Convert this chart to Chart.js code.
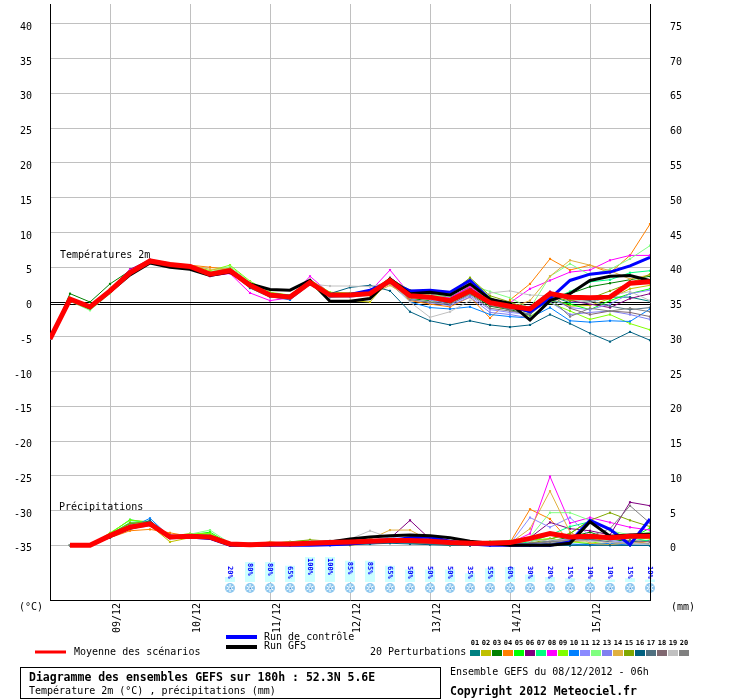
<!DOCTYPE html>
<html>
<head>
<meta charset="utf-8">
<script src="https://cdn.jsdelivr.net/npm/chart.js@4.4.1/dist/chart.umd.min.js"></script>
<style>
  html, body { margin: 0; padding: 0; background: #fff; }
</style>
</head>
<body>
<canvas id="myChart" width="740" height="700"></canvas>
<script>
// hours since 08/12/2012 06h
const HOURS = [0,6,12,18,24,30,36,42,48,54,60,66,72,78,84,90,96,102,108,114,120,126,132,138,144,150,156,162,168,174,180];
const DAY_TICKS = [18,42,66,90,114,138,162];
const DAY_LABELS = ['09/12','10/12','11/12','12/12','13/12','14/12','15/12'];
const TEMP_TICKS = [-35,-30,-25,-20,-15,-10,-5,0,5,10,15,20,25,30,35,40];
const MM_TICKS = [0,5,10,15,20,25,30,35,40,45,50,55,60,65,70,75];

// snow probability
const SNOW_HOURS = [54,60,66,72,78,84,90,96,102,108,114,120,126,132,138,144,150,156,162,168,174,180];
const SNOW_PCT = [20,80,80,65,100,100,85,85,65,50,50,50,35,55,60,30,20,15,10,10,15,10];

const PERT_COLORS = ['#008080','#c0c000','#008000','#ff8000','#00ff00','#800080','#00ff80','#ff00ff','#80ff00','#0080ff',
                     '#8a8aff','#80ff80','#8080f0','#e0b040','#80a800','#006080','#507080','#806870','#c0c0c0','#808080'];

// temperature 2m (°C)
const T_MEAN = [-5.3,0.4,-0.7,1.6,4.2,5.9,5.4,5.1,4.0,4.5,2.4,1.0,0.7,2.8,1.0,1.0,1.2,3.1,0.9,0.7,0.2,1.6,-0.1,-0.6,-1.0,1.2,0.7,0.6,0.7,2.7,2.9];
const T_CTRL = [-5.3,0.4,-0.7,1.6,4.2,5.8,5.3,5.0,3.9,4.4,2.3,1.1,0.8,2.7,1.0,1.1,1.7,2.9,1.6,1.7,1.4,3.1,0.4,-0.5,-1.4,0.5,3.1,4.0,4.3,5.2,6.4];
const T_GFS  = [-5.3,0.4,-0.8,1.5,3.9,5.6,5.0,4.7,3.8,4.3,2.6,1.8,1.7,3.1,0.1,0.1,0.5,3.3,1.2,1.4,1.0,2.6,0.4,-0.2,-2.6,0.2,1.2,3.1,3.7,3.8,3.1];
const T_P01 = [-5.3,0.3,-0.8,1.5,4.0,5.7,5.5,5.0,3.8,4.3,2.0,0.7,0.5,2.9,0.9,1.1,1.2,2.9,1.2,0.5,0.0,1.5,-0.3,-0.8,-1.3,0.9,-0.1,0.0,0.7,0.7,0.1];
const T_P02 = [-5.3,0.5,-0.6,1.7,4.3,6.0,5.5,5.2,4.3,4.9,2.7,1.2,0.6,2.7,0.1,0.2,0.0,3.3,0.7,0.9,0.5,2.3,0.1,-0.5,-0.9,0.5,-0.6,-0.5,0.5,1.9,2.4];
const T_P03 = [-5.3,1.2,0.0,2.6,4.5,5.7,5.2,4.9,3.9,4.2,2.2,1.1,0.9,3.0,1.2,0.9,1.1,2.9,0.5,0.2,-0.1,1.2,-0.6,-1.1,-1.8,0.7,1.2,2.2,2.7,3.2,3.7];
const T_P04 = [-5.3,0.4,-0.7,1.6,4.1,5.9,5.6,5.3,5.0,4.7,2.7,1.3,0.8,2.6,0.7,0.8,1.0,2.6,0.2,-0.3,-0.7,0.7,-2.3,0.3,2.6,6.2,4.6,5.3,4.2,6.7,11.2];
const T_P05 = [-5.3,0.2,-1.1,1.3,4.1,6.0,5.3,5.0,4.1,4.7,2.5,1.2,1.0,3.0,1.3,1.2,1.4,3.2,1.0,0.7,0.5,1.9,0.2,-0.8,-1.5,0.2,-0.3,-1.1,0.2,1.2,1.9];
const T_P06 = [-5.3,0.5,-0.7,1.8,4.7,6.1,5.6,5.1,3.9,4.4,2.3,0.9,0.7,3.1,1.1,1.0,1.3,3.5,1.5,1.1,0.7,2.1,0.0,-0.4,-0.7,1.5,0.2,-0.3,-0.8,0.5,1.2];
const T_P07 = [-5.3,0.3,-0.9,1.4,4.0,5.8,5.4,5.2,4.2,4.6,2.6,1.1,0.7,2.7,1.0,0.9,1.2,3.0,1.3,0.8,0.4,1.7,0.5,-0.3,-1.6,0.3,1.5,2.9,3.2,4.2,4.5];
const T_P08 = [-5.3,0.4,-0.6,1.7,4.6,6.0,5.5,5.1,3.7,4.1,1.3,0.2,0.6,3.7,1.2,1.1,1.5,4.6,1.1,0.7,0.6,2.2,0.1,-0.1,1.9,3.1,4.3,4.6,6.0,6.7,6.7];
const T_P09 = [-5.3,0.6,-0.5,1.9,4.4,5.8,5.5,5.3,4.5,5.3,3.0,1.4,1.0,3.2,1.4,1.3,1.5,3.4,1.6,1.3,0.9,3.3,0.7,-0.7,-2.1,-0.1,-1.3,-2.5,-1.8,-3.1,-4.0];
const T_P10 = [-5.3,0.3,-0.8,1.5,4.1,5.8,5.3,4.9,3.8,4.3,2.2,0.8,0.3,2.5,0.7,0.8,1.1,2.8,0.0,-0.8,-1.0,-0.7,-1.8,-2.1,-2.3,-0.8,-2.7,-2.9,-2.7,-2.8,-1.0];
const T_P11 = [-5.3,0.4,-0.8,1.6,4.2,5.9,5.4,5.1,4.0,4.5,2.3,0.9,0.7,2.8,0.9,0.9,1.3,2.9,0.7,0.3,-0.3,0.9,-1.1,-1.5,-1.8,0.5,-0.8,-1.1,-0.3,1.2,1.7];
const T_P12 = [-5.3,0.1,-1.2,1.2,3.9,5.7,5.4,5.2,4.3,5.1,2.9,1.3,0.8,2.9,1.3,1.2,1.2,3.2,1.4,1.0,0.8,2.5,1.5,0.6,-0.9,3.7,5.5,3.9,4.7,6.2,8.1];
const T_P13 = [-5.3,0.5,-0.6,1.7,4.3,5.9,5.4,5.0,3.9,4.4,2.2,0.7,0.6,2.7,0.8,0.7,1.0,2.7,0.4,-0.1,-0.5,0.7,-1.5,-1.8,-2.3,0.0,-1.8,-1.5,-1.3,-1.8,-2.5];
const T_P14 = [-5.3,0.4,-0.7,1.6,4.2,5.9,5.5,5.3,4.7,4.8,2.8,1.2,0.9,3.0,1.1,1.0,0.9,2.4,0.6,0.4,0.1,1.3,-0.2,-0.9,0.2,3.7,6.0,5.3,4.5,3.3,3.9];
const T_P15 = [-5.3,0.5,-0.5,1.8,4.4,6.0,5.5,5.2,4.2,4.8,2.6,1.2,1.0,3.0,1.2,1.1,1.3,3.3,1.7,1.5,1.2,3.5,0.9,0.0,-1.1,0.7,0.2,0.5,1.6,2.7,4.0];
const T_P16 = [-5.3,0.3,-0.9,1.5,4.1,5.8,5.3,5.0,3.9,4.3,2.1,0.8,0.7,2.8,1.2,2.1,2.4,1.6,-1.4,-2.7,-3.3,-2.7,-3.3,-3.6,-3.3,-1.8,-3.1,-4.5,-5.7,-4.3,-5.5];
const T_P17 = [-5.3,0.4,-0.7,1.6,4.2,5.9,5.4,5.1,4.0,4.5,2.5,1.1,0.8,2.8,1.1,1.0,1.2,3.0,0.8,0.6,0.2,1.8,-0.1,-1.2,-1.9,1.3,0.5,0.2,-0.6,-1.1,-0.8];
const T_P18 = [-5.3,0.4,-0.8,1.5,4.2,5.8,5.4,5.1,4.1,4.6,2.4,1.0,0.7,2.7,0.9,0.9,1.1,3.0,1.0,0.6,0.3,1.6,-0.5,-1.0,-1.4,1.1,-0.9,-1.8,-1.3,-1.5,-2.1];
const T_P19 = [-5.3,0.4,-0.6,1.7,4.2,5.9,5.5,5.2,4.1,4.7,2.5,1.2,0.9,2.6,2.3,2.3,2.2,2.9,0.0,-2.2,-1.4,0.2,1.3,1.6,1.0,0.9,0.5,-0.1,0.9,1.5,0.2];
const T_P20 = [-5.3,0.3,-0.7,1.6,4.3,5.9,5.4,5.0,4.0,4.4,2.3,0.9,0.7,2.9,1.0,1.1,1.2,3.1,0.3,0.0,-0.3,1.1,-0.9,-1.3,-1.7,0.6,-2.1,-0.9,-1.3,-0.9,-1.4];
const TEMP_PERTS = [T_P01,T_P02,T_P03,T_P04,T_P05,T_P06,T_P07,T_P08,T_P09,T_P10,T_P11,T_P12,T_P13,T_P14,T_P15,T_P16,T_P17,T_P18,T_P19,T_P20];

// precipitation (mm / 6h)
const R_MEAN = [null,0.0,0.0,1.4,2.6,3.1,1.2,1.3,1.2,0.2,0.1,0.2,0.2,0.3,0.4,0.5,0.6,0.7,0.7,0.6,0.4,0.3,0.3,0.4,1.0,1.7,1.2,1.3,1.1,1.3,1.3];
const R_CTRL = [null,0.0,0.0,1.3,2.5,3.2,1.1,1.2,1.0,0.0,0.0,0.0,0.0,0.0,0.1,0.2,0.5,0.7,1.1,1.2,0.6,0.2,0.0,0.0,0.0,0.0,0.5,3.6,2.3,0.1,3.8];
const R_GFS  = [null,0.0,0.0,1.4,2.6,3.1,1.2,1.2,1.1,0.1,0.0,0.1,0.2,0.3,0.5,0.9,1.2,1.4,1.5,1.4,1.1,0.6,0.3,0.0,0.0,0.0,0.3,3.4,1.3,1.5,1.6];
const R_P01 = [null,0.0,0.0,1.2,2.3,3.0,1.1,1.2,1.0,0.1,0.0,0.1,0.1,0.2,0.3,0.2,0.4,0.5,0.3,0.2,0.1,0.0,0.0,0.0,0.0,0.1,0.0,0.3,0.1,0.0,0.0];
const R_P02 = [null,0.0,0.0,1.3,2.5,2.9,0.5,1.1,1.5,0.3,0.1,0.5,0.2,0.2,0.1,0.0,0.3,0.6,0.4,0.3,0.0,0.1,0.0,0.0,0.0,0.2,0.5,0.7,1.0,0.6,0.2];
const R_P03 = [null,0.0,0.0,1.5,3.1,3.3,1.3,1.4,1.3,0.2,0.2,0.3,0.4,0.2,0.5,0.6,0.8,0.7,0.6,0.3,0.2,0.1,0.2,0.0,0.3,0.6,1.2,1.9,0.9,0.5,0.7];
const R_P04 = [null,0.0,0.0,1.1,2.1,2.3,1.8,1.3,1.1,0.1,0.0,0.0,0.1,0.2,0.3,0.4,0.5,0.7,1.0,0.9,0.5,0.3,0.2,0.4,5.2,3.8,0.5,0.9,0.3,0.2,0.6];
const R_P05 = [null,0.0,0.0,1.7,3.7,3.2,1.4,1.5,1.9,0.2,0.1,0.2,0.1,0.3,0.6,0.7,0.5,0.4,0.6,0.4,0.2,0.3,0.5,0.3,0.6,0.9,1.7,3.6,2.2,0.9,2.5];
const R_P06 = [null,0.0,0.0,1.4,2.7,3.1,1.5,1.3,1.2,0.2,0.1,0.2,0.3,0.4,0.3,0.6,0.8,1.0,3.6,0.9,0.3,0.2,0.3,0.4,1.1,3.3,2.4,2.1,1.5,6.2,5.7];
const R_P07 = [null,0.0,0.0,1.6,3.3,3.5,1.2,1.4,1.6,0.3,0.0,0.1,0.2,0.3,0.4,0.3,0.5,0.8,0.6,0.3,0.1,0.0,0.0,0.1,0.5,1.5,2.7,3.4,1.3,1.1,0.6];
const R_P08 = [null,0.0,0.0,1.3,2.6,2.9,1.1,1.2,1.1,0.1,0.1,0.2,0.2,0.3,0.2,0.3,0.4,0.6,0.5,0.4,0.2,0.1,0.0,0.3,1.7,9.9,3.2,4.0,3.3,2.6,2.2];
const R_P09 = [null,0.0,0.0,1.8,3.6,3.4,1.3,1.7,1.7,0.3,0.2,0.3,0.5,0.7,0.5,0.4,0.6,0.9,0.7,0.5,0.3,0.2,0.3,0.6,0.7,1.0,0.5,0.3,0.7,1.2,0.9];
const R_P10 = [null,0.0,0.0,1.3,2.5,3.9,1.2,1.3,1.1,0.0,0.0,0.0,0.0,0.1,0.2,0.3,0.2,0.4,0.5,0.3,0.1,0.0,0.0,0.0,0.0,0.0,0.2,0.1,0.3,0.0,0.0];
const R_P11 = [null,0.0,0.0,1.4,2.8,3.2,1.3,1.4,1.3,0.2,0.0,0.1,0.2,0.2,0.3,0.4,0.6,1.2,0.8,0.5,0.3,0.1,0.0,0.2,4.0,2.6,4.0,1.3,0.7,0.4,0.6];
const R_P12 = [null,0.0,0.0,1.5,3.0,3.3,1.4,1.6,2.2,0.3,0.3,0.2,0.3,0.5,0.6,0.5,0.7,0.9,0.7,0.5,0.3,0.4,0.6,0.7,1.2,4.7,4.7,3.6,2.1,1.5,1.9];
const R_P13 = [null,0.0,0.0,1.2,2.4,2.8,1.2,1.2,1.1,0.1,0.0,0.1,0.1,0.2,0.3,0.2,0.4,0.5,1.0,0.7,0.4,0.2,0.1,0.0,0.2,0.6,0.9,0.7,0.5,0.3,0.2];
const R_P14 = [null,0.0,0.0,1.4,2.6,3.1,1.0,1.3,1.2,0.2,0.1,0.2,0.2,0.4,0.5,0.6,0.9,2.2,2.2,0.7,0.3,0.1,0.2,0.3,2.4,7.8,1.9,0.3,0.1,0.4,0.2];
const R_P15 = [null,0.0,0.0,1.6,3.2,3.4,1.3,1.5,1.4,0.2,0.2,0.3,0.5,0.8,0.6,0.7,0.6,0.8,0.7,0.6,0.4,0.3,0.2,0.1,0.3,0.9,1.7,3.6,4.7,3.6,2.7];
const R_P16 = [null,0.0,0.0,1.1,2.4,3.6,1.1,1.1,1.0,0.0,0.0,0.0,0.0,0.1,0.0,0.1,0.2,0.3,0.2,0.1,0.0,0.0,0.0,0.0,0.0,0.0,0.0,0.0,0.0,0.0,0.0];
const R_P17 = [null,0.0,0.0,1.3,2.7,3.0,1.2,1.2,1.2,0.1,0.0,0.1,0.1,0.2,0.3,0.3,0.5,0.6,0.4,0.3,0.1,0.0,0.0,0.0,0.1,0.3,0.6,0.9,0.5,0.2,0.3];
const R_P18 = [null,0.0,0.0,1.4,2.5,2.9,1.1,1.3,1.3,0.2,0.1,0.2,0.3,0.3,0.4,0.5,0.7,0.8,0.6,0.4,0.2,0.1,0.0,0.1,0.3,0.5,0.8,1.2,1.0,0.7,0.5];
const R_P19 = [null,0.0,0.0,1.3,2.6,3.1,1.2,1.4,1.2,0.2,0.3,0.4,0.4,0.6,0.7,0.9,2.1,1.1,0.8,0.5,0.3,0.2,0.3,0.5,0.6,0.8,0.7,0.6,0.4,0.3,0.2];
const R_P20 = [null,0.0,0.0,1.5,2.9,3.3,1.3,1.3,1.2,0.1,0.0,0.1,0.2,0.3,0.4,0.5,0.6,0.7,0.5,0.4,0.2,0.1,0.0,0.2,0.3,0.5,0.7,1.3,2.4,5.7,3.2];
const RAIN_PERTS = [R_P01,R_P02,R_P03,R_P04,R_P05,R_P06,R_P07,R_P08,R_P09,R_P10,R_P11,R_P12,R_P13,R_P14,R_P15,R_P16,R_P17,R_P18,R_P19,R_P20];

const FONT = '"DejaVu Sans Mono", monospace';

function series(vals, color, width, axis, order, marks) {
  return {
    data: vals.map((v, i) => ({ x: HOURS[i], y: v })),
    borderColor: color,
    backgroundColor: color,
    borderWidth: width,
    yAxisID: axis,
    order: order,
    pointRadius: marks ? 1.5 : 0,
    pointStyle: 'rect',
    pointBorderWidth: 0,
    tension: 0,
    fill: false
  };
}

function getDataSets() {
  const datasets = [];
  datasets.push(series(T_MEAN, '#ff0000', 5, 'y', 0, false));
  datasets.push(series(R_MEAN, '#ff0000', 5, 'yR', 0, false));
  datasets.push(series(T_GFS, '#000000', 3, 'y', 1, false));
  datasets.push(series(R_GFS, '#000000', 3, 'yR', 1, false));
  datasets.push(series(T_CTRL, '#0000ff', 3, 'y', 2, false));
  datasets.push(series(R_CTRL, '#0000ff', 3, 'yR', 2, false));
  TEMP_PERTS.forEach((p, k) => datasets.push(series(p, PERT_COLORS[k], 1, 'y', 100 - k, true)));
  RAIN_PERTS.forEach((p, k) => datasets.push(series(p, PERT_COLORS[k], 1, 'yR', 100 - k, true)));
  return datasets;
}

function line(ctx, x1, y1, x2, y2, color, w) {
  ctx.save();
  ctx.strokeStyle = color;
  ctx.lineWidth = w;
  ctx.beginPath();
  ctx.moveTo(x1, y1);
  ctx.lineTo(x2, y2);
  ctx.stroke();
  ctx.restore();
}

function text(ctx, str, x, y, font, color, align) {
  ctx.save();
  ctx.font = font;
  ctx.fillStyle = color || '#000';
  ctx.textAlign = align || 'left';
  ctx.textBaseline = 'middle';
  ctx.fillText(str, x, y);
  ctx.restore();
}

function snowflake(ctx, x, y) {
  ctx.save();
  ctx.fillStyle = '#8cc6ee';
  ctx.beginPath();
  ctx.arc(x, y, 5, 0, Math.PI * 2);
  ctx.fill();
  ctx.strokeStyle = '#ffffff';
  ctx.lineWidth = 1;
  for (let a = 0; a < 3; a++) {
    const ang = a * Math.PI / 3 + Math.PI / 2;
    ctx.beginPath();
    ctx.moveTo(x - Math.cos(ang) * 4, y - Math.sin(ang) * 4);
    ctx.lineTo(x + Math.cos(ang) * 4, y + Math.sin(ang) * 4);
    ctx.stroke();
  }
  ctx.fillStyle = '#4a8fd0';
  ctx.fillRect(x - 0.5, y - 0.5, 1.5, 1.5);
  ctx.restore();
}

const meteoPlugin = {
  id: 'meteo',
  beforeDatasetsDraw(chart) {
    const ctx = chart.ctx;
    const area = chart.chartArea;
    const yL = chart.scales.y;
    const y0 = Math.round(yL.getPixelForValue(0));
    line(ctx, area.left, y0 + 0.5, area.right, y0 + 0.5, '#000', 1);
    line(ctx, area.left, y0 + 2.5, area.right, y0 + 2.5, '#000', 1);
    text(ctx, 'Températures 2m', 60, 255, '10px ' + FONT, '#000');
    text(ctx, 'Précipitations', 59, 507, '10px ' + FONT, '#000');
  },
  afterDraw(chart) {
    const ctx = chart.ctx;
    const area = chart.chartArea;
    const x = chart.scales.x;
    const yL = chart.scales.y;
    const yR = chart.scales.yR;

    // axis tick labels
    TEMP_TICKS.forEach(v => text(ctx, String(v), 32, yL.getPixelForValue(v) + 3.5, '10px ' + FONT, '#000', 'right'));
    MM_TICKS.forEach(v => text(ctx, String(v), 670, yR.getPixelForValue(v) + 3.5, '10px ' + FONT, '#000', 'left'));
    text(ctx, '(°C)', 19, 607, '10px ' + FONT, '#000');
    text(ctx, '(mm)', 671, 607, '10px ' + FONT, '#000');

    // dates, rotated
    DAY_TICKS.forEach((h, i) => {
      ctx.save();
      ctx.translate(x.getPixelForValue(h) + 7, 603);
      ctx.rotate(-Math.PI / 2);
      ctx.font = '10px ' + FONT;
      ctx.fillStyle = '#000';
      ctx.textAlign = 'right';
      ctx.textBaseline = 'middle';
      ctx.fillText(DAY_LABELS[i], 0, 0);
      ctx.restore();
    });

    // snow probability row
    SNOW_HOURS.forEach((h, i) => {
      const px = x.getPixelForValue(h);
      const pct = SNOW_PCT[i];
      const top = 582 - pct * 0.25;
      ctx.fillStyle = '#ccffff';
      ctx.fillRect(px - 5, top, 10, 582 - top);
      ctx.save();
      ctx.translate(px, Math.min(top, 565) + 1);
      ctx.rotate(Math.PI / 2);
      ctx.font = 'bold 7px ' + FONT;
      ctx.fillStyle = '#0000ff';
      ctx.textAlign = 'left';
      ctx.textBaseline = 'middle';
      ctx.fillText(pct + '%', 0, 0.5);
      ctx.restore();
      snowflake(ctx, px, 588);
    });
    line(ctx, area.right + 0.5, 555, area.right + 0.5, area.bottom, '#000', 1);

    // legend
    line(ctx, 35, 652, 66, 652, '#ff0000', 3);
    text(ctx, 'Moyenne des scénarios', 74, 652, '10px ' + FONT, '#000');
    line(ctx, 226, 637, 257, 637, '#0000ff', 4);
    text(ctx, 'Run de contrôle', 264, 637, '10px ' + FONT, '#000');
    line(ctx, 226, 647, 257, 647, '#000000', 4);
    text(ctx, 'Run GFS', 264, 646, '10px ' + FONT, '#000');
    text(ctx, '20 Perturbations', 370, 652, '10px ' + FONT, '#000');
    PERT_COLORS.forEach((c, k) => {
      const sx = 470 + k * 11;
      ctx.fillStyle = c;
      ctx.fillRect(sx, 650, 10, 6);
      text(ctx, String(k + 1).padStart(2, '0'), sx + 5, 643, 'bold 7px ' + FONT, '#000', 'center');
    });

    // info box
    ctx.save();
    ctx.strokeStyle = '#000';
    ctx.lineWidth = 1;
    ctx.strokeRect(20.5, 667.5, 420, 31);
    ctx.restore();
    text(ctx, 'Diagramme des ensembles GEFS sur 180h : 52.3N 5.6E', 29, 678, 'bold 11.5px ' + FONT, '#000');
    text(ctx, 'Température 2m (°C) , précipitations (mm)', 29, 691, '10px ' + FONT, '#000');
    text(ctx, 'Ensemble GEFS du 08/12/2012 - 06h', 450, 672, '10px ' + FONT, '#000');
    text(ctx, 'Copyright 2012 Meteociel.fr', 450, 692, 'bold 11.5px ' + FONT, '#000');
  }
};

const config = {
  type: 'line',
  data: { datasets: getDataSets() },
  options: {
    responsive: false,
    animation: false,
    events: [],
    layout: { padding: { left: 50, right: 90, top: 0, bottom: 100 } },
    scales: {
      x: {
        type: 'linear',
        min: 0,
        max: 180,
        afterBuildTicks: s => { s.ticks = DAY_TICKS.map(v => ({ value: v })); },
        afterFit: s => { s.height = 0; },
        ticks: { display: false },
        grid: { color: '#c0c0c0', lineWidth: 1, drawTicks: false },
        border: { display: true, color: '#000', width: 1 }
      },
      y: {
        position: 'left',
        min: -300 / 7,
        max: 300 / 7,
        afterBuildTicks: s => { s.ticks = TEMP_TICKS.map(v => ({ value: v })); },
        afterFit: s => { s.width = 0; },
        ticks: { display: false },
        grid: { color: '#c0c0c0', lineWidth: 1, drawTicks: false },
        border: { display: true, color: '#000', width: 1 }
      },
      yR: {
        position: 'right',
        min: 35 - 300 / 7,
        max: 35 + 300 / 7,
        afterBuildTicks: s => { s.ticks = MM_TICKS.map(v => ({ value: v })); },
        afterFit: s => { s.width = 0; },
        ticks: { display: false },
        grid: { display: false, drawTicks: false },
        border: { display: true, color: '#000', width: 1 }
      }
    },
    plugins: {
      legend: { display: false },
      tooltip: { enabled: false }
    }
  },
  plugins: [meteoPlugin]
};

const chart = new Chart(document.getElementById('myChart'), config);
</script>
</body>
</html>
